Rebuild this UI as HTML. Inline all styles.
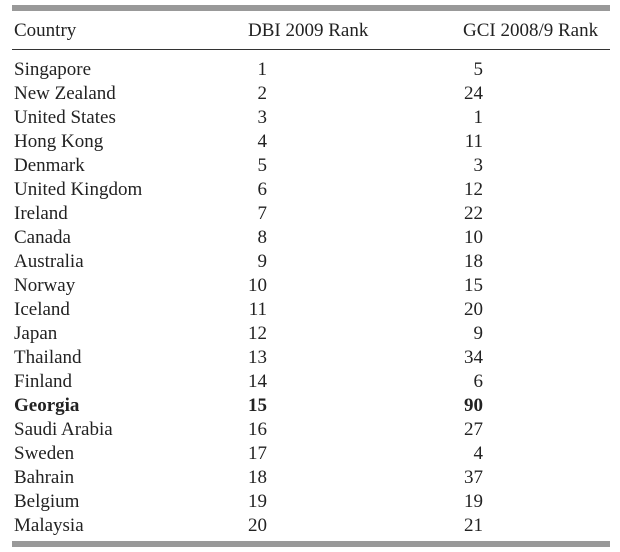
<!DOCTYPE html>
<html><head><meta charset="utf-8"><style>
html,body{margin:0;padding:0;background:#fff;}
body{width:620px;height:552px;position:relative;overflow:hidden;font-family:"Liberation Serif",serif;font-size:19px;color:#222;}
.bar{position:absolute;left:12px;width:598px;height:6px;background:#999;}
.rule{position:absolute;left:12px;width:598px;height:1px;background:#333;top:49px;}
.t{position:absolute;line-height:20px;white-space:nowrap;}
.c{left:14px;}
.d{left:187px;width:80px;text-align:right;}
.g{left:403px;width:80px;text-align:right;}
b{font-weight:bold;}
</style></head><body>
<div class="bar" style="top:5px"></div>
<div class="t" style="left:248px;top:21px">DBI 2009 Rank</div>
<div class="t" style="left:14px;top:21px">Country</div>
<div class="t" style="left:463px;top:21px">GCI 2008/9 Rank</div>
<div class="rule"></div>
<div class="t c" style="top:60px">Singapore</div><div class="t d" style="top:60px">1</div><div class="t g" style="top:60px">5</div>
<div class="t c" style="top:84px">New Zealand</div><div class="t d" style="top:84px">2</div><div class="t g" style="top:84px">24</div>
<div class="t c" style="top:108px">United States</div><div class="t d" style="top:108px">3</div><div class="t g" style="top:108px">1</div>
<div class="t c" style="top:132px">Hong Kong</div><div class="t d" style="top:132px">4</div><div class="t g" style="top:132px">11</div>
<div class="t c" style="top:156px">Denmark</div><div class="t d" style="top:156px">5</div><div class="t g" style="top:156px">3</div>
<div class="t c" style="top:180px">United Kingdom</div><div class="t d" style="top:180px">6</div><div class="t g" style="top:180px">12</div>
<div class="t c" style="top:204px">Ireland</div><div class="t d" style="top:204px">7</div><div class="t g" style="top:204px">22</div>
<div class="t c" style="top:228px">Canada</div><div class="t d" style="top:228px">8</div><div class="t g" style="top:228px">10</div>
<div class="t c" style="top:252px">Australia</div><div class="t d" style="top:252px">9</div><div class="t g" style="top:252px">18</div>
<div class="t c" style="top:276px">Norway</div><div class="t d" style="top:276px">10</div><div class="t g" style="top:276px">15</div>
<div class="t c" style="top:300px">Iceland</div><div class="t d" style="top:300px">11</div><div class="t g" style="top:300px">20</div>
<div class="t c" style="top:324px">Japan</div><div class="t d" style="top:324px">12</div><div class="t g" style="top:324px">9</div>
<div class="t c" style="top:348px">Thailand</div><div class="t d" style="top:348px">13</div><div class="t g" style="top:348px">34</div>
<div class="t c" style="top:372px">Finland</div><div class="t d" style="top:372px">14</div><div class="t g" style="top:372px">6</div>
<div class="t c" style="top:396px"><b>Georgia</b></div><div class="t d" style="top:396px"><b>15</b></div><div class="t g" style="top:396px"><b>90</b></div>
<div class="t c" style="top:420px">Saudi Arabia</div><div class="t d" style="top:420px">16</div><div class="t g" style="top:420px">27</div>
<div class="t c" style="top:444px">Sweden</div><div class="t d" style="top:444px">17</div><div class="t g" style="top:444px">4</div>
<div class="t c" style="top:468px">Bahrain</div><div class="t d" style="top:468px">18</div><div class="t g" style="top:468px">37</div>
<div class="t c" style="top:492px">Belgium</div><div class="t d" style="top:492px">19</div><div class="t g" style="top:492px">19</div>
<div class="t c" style="top:516px">Malaysia</div><div class="t d" style="top:516px">20</div><div class="t g" style="top:516px">21</div>
<div class="bar" style="top:541px"></div>
</body></html>
